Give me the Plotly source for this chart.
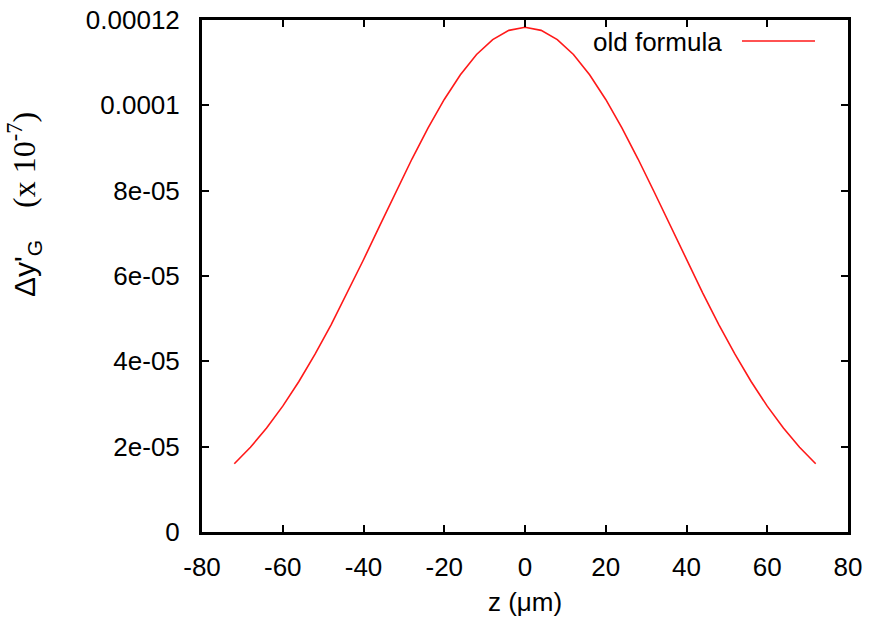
import plotly.graph_objects as go

z_um = [-72, -68, -64, -60, -56, -52, -48, -44, -40, -36, -32, -28, -24, -20, -16, -12, -8, -4,
        0, 4, 8, 12, 16, 20, 24, 28, 32, 36, 40, 44, 48, 52, 56, 60, 64, 68, 72]
dy_old = [1.601e-05, 1.987e-05, 2.436e-05, 2.950e-05, 3.528e-05, 4.168e-05, 4.863e-05, 5.605e-05,
          6.381e-05, 7.175e-05, 7.969e-05, 8.742e-05, 9.472e-05, 1.0138e-04, 1.0717e-04, 1.1191e-04,
          1.1541e-04, 1.1757e-04, 1.183e-04,
          1.1757e-04, 1.1541e-04, 1.1191e-04, 1.0717e-04, 1.0138e-04, 9.472e-05, 8.742e-05, 7.969e-05,
          7.175e-05, 6.381e-05, 5.605e-05, 4.863e-05, 4.168e-05, 3.528e-05, 2.950e-05, 2.436e-05,
          1.987e-05, 1.601e-05]

x_ticks = [-80, -60, -40, -20, 0, 20, 40, 60, 80]
x_tick_labels = ["-80", "-60", "-40", "-20", "0", "20", "40", "60", "80"]
y_ticks = [0, 2e-05, 4e-05, 6e-05, 8e-05, 1e-04, 1.2e-04]
y_tick_labels = ["0", "2e-05", "4e-05", "6e-05", "8e-05", "0.0001", "0.00012"]
series_name = "old formula"

W, H = 869, 618
L, R, T, B = 202, 21, 20, 86
PW, PH = W - L - R, H - T - B

fig = go.Figure()
fig.add_trace(go.Scatter(x=z_um, y=dy_old, mode="lines", name=series_name,
                         line=dict(color="rgb(255,25,25)", width=1.6), showlegend=False))

font = dict(family="Liberation Sans, Arial, sans-serif", size=26, color="black")
axis_common = dict(showgrid=False, zeroline=False, showline=True, linecolor="black", linewidth=3,
                   mirror="ticks", ticks="inside", ticklen=7, tickwidth=2, tickcolor="black",
                   tickfont=font, automargin=False)

fig.update_xaxes(range=[-80, 80], tickvals=x_ticks, ticktext=x_tick_labels, ticklabelstandoff=10,
                 title=dict(text="z (μm)", font=font, standoff=12), **axis_common)
fig.update_yaxes(range=[0, 1.2e-04], tickvals=y_ticks, ticktext=y_tick_labels,
                 ticklabelstandoff=14, **axis_common)

# y-axis title (mixed fonts)
fig.add_annotation(
    xref="paper", yref="paper", x=-(L - 24) / PW, y=1 - (205 - T) / PH,
    text=('<span style="font-family:Liberation Sans">Δy\'<sub>G</sub></span>'
          '<span style="font-family:Liberation Serif;font-size:32px">    (x 10<sup>-7</sup>)</span>'),
    textangle=-90, showarrow=False, font=dict(family="Liberation Sans", size=30, color="black"),
    xanchor="center", yanchor="middle")

# legend (gnuplot style: text then sample line)
fig.add_annotation(xref="paper", yref="paper", x=(724 - L) / PW, y=1 - (42 - T) / PH,
                   text=series_name, showarrow=False, font=font, xanchor="right", yanchor="middle")
fig.add_shape(type="line", xref="paper", yref="paper",
              x0=(742 - L) / PW, x1=(815 - L) / PW,
              y0=1 - (41 - T) / PH, y1=1 - (41 - T) / PH,
              line=dict(color="rgb(255,25,25)", width=1.6))

fig.update_layout(width=W, height=H, margin=dict(l=L, r=R, t=T, b=B, autoexpand=False),
                  paper_bgcolor="white", plot_bgcolor="white", font=font, showlegend=False)

fig.write_html("out.html", config={"displayModeBar": False},
               post_script="document.body.style.margin='0';")
